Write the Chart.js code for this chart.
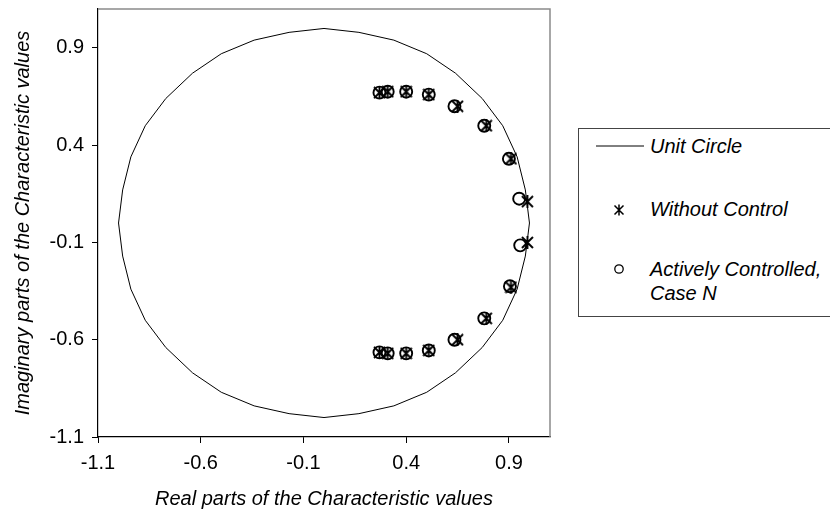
<!DOCTYPE html>
<html>
<head>
<meta charset="utf-8">
<script src="https://cdn.jsdelivr.net/npm/chart.js@4"></script>
<style>
  html, body { margin: 0; padding: 0; background: #fff; }
  #wrap { position: relative; width: 830px; height: 517px; overflow: hidden; }
  #legend { position: absolute; left: 578px; top: 128px; width: 260px; height: 189px;
            border: 1px solid #444; box-sizing: border-box; background: #fff; }
  .lg { position: absolute; font: italic 20px "Liberation Sans", Arial, sans-serif; line-height: 24px;
        color: #000; white-space: nowrap; }
  #legend svg { position: absolute; left: 0; top: 0; }
</style>
</head>
<body>
<div id="wrap">
  <canvas id="chart" width="830" height="517"></canvas>
  <div id="legend">
    <svg width="260" height="189">
      <line x1="17" y1="17" x2="65" y2="17" stroke="#000" stroke-width="1"/>
      <path d="M35.5 76.5 L44.5 85.5 M44.5 76.5 L35.5 85.5 M40 75.5 L40 86.5" stroke="#000" stroke-width="1.5" fill="none"/>
      <circle cx="40" cy="140" r="4.2" stroke="#000" stroke-width="1.3" fill="none"/>
    </svg>
    <span class="lg" id="lg0" style="left:71px; top:5px"></span>
    <span class="lg" id="lg1" style="left:71px; top:68px"></span>
    <span class="lg" id="lg2" style="left:71px; top:128px"></span>
    <span class="lg" id="lg3" style="left:71px; top:152px"></span>
  </div>
</div>
<script>
// axis ticks
const xTicks = [-1.1, -0.6, -0.1, 0.4, 0.9];
const yTicks = [-1.1, -0.6, -0.1, 0.4, 0.9];

// unit circle
const circleX = [1, 0.98, 0.94, 0.87, 0.77, 0.64, 0.5, 0.34, 0.17, 0, -0.17, -0.34, -0.5, -0.64, -0.77, -0.87, -0.94, -0.98, -1,
                 -0.98, -0.94, -0.87, -0.77, -0.64, -0.5, -0.34, -0.17, 0, 0.17, 0.34, 0.5, 0.64, 0.77, 0.87, 0.94, 0.98, 1];
const circleY = [0, 0.17, 0.34, 0.5, 0.64, 0.77, 0.87, 0.94, 0.98, 1, 0.98, 0.94, 0.87, 0.77, 0.64, 0.5, 0.34, 0.17, 0,
                 -0.17, -0.34, -0.5, -0.64, -0.77, -0.87, -0.94, -0.98, -1, -0.98, -0.94, -0.87, -0.77, -0.64, -0.5, -0.34, -0.17, 0];

// characteristic values without control
const noCtrlX = [0.27, 0.31, 0.40, 0.51, 0.65, 0.79, 0.91, 0.99, 0.99, 0.91, 0.79, 0.65, 0.51, 0.40, 0.31, 0.27];
const noCtrlY = [0.67, 0.675, 0.675, 0.66, 0.60, 0.50, 0.33, 0.11, -0.10, -0.33, -0.49, -0.60, -0.655, -0.67, -0.67, -0.665];

// actively controlled, case N
const ctrlX = [0.27, 0.31, 0.40, 0.51, 0.635, 0.78, 0.90, 0.95, 0.955, 0.905, 0.78, 0.635, 0.51, 0.40, 0.31, 0.27];
const ctrlY = [0.67, 0.675, 0.675, 0.66, 0.60, 0.50, 0.33, 0.125, -0.115, -0.325, -0.49, -0.60, -0.655, -0.67, -0.67, -0.665];

const seriesNames = ['Unit Circle', 'Without Control', 'Actively Controlled,', 'Case N'];
const xTitle = 'Real parts of the Characteristic values';
const yTitle = 'Imaginary parts of the Characteristic values';

seriesNames.forEach((t, i) => { document.getElementById('lg' + i).textContent = t; });

const pts = (xs, ys) => xs.map((x, i) => ({ x, y: ys[i] }));

function starImg(size, lw){
  const c = document.createElement('canvas');
  c.width = size; c.height = size;
  const g = c.getContext('2d');
  g.strokeStyle = '#000';
  g.lineWidth = lw;
  g.beginPath();
  g.moveTo(1, 1); g.lineTo(size - 1, size - 1);
  g.moveTo(size - 1, 1); g.lineTo(1, size - 1);
  g.moveTo(size / 2, 0); g.lineTo(size / 2, size);
  g.stroke();
  return c;
}
const star = starImg(13, 1.9);

const frame = {
  id: 'frame',
  afterDraw(chart){
    const { ctx, chartArea: a } = chart;
    ctx.save();
    ctx.strokeStyle = '#8a8a8a';
    ctx.lineWidth = 1.5;
    ctx.beginPath();
    ctx.moveTo(a.left, a.top); ctx.lineTo(a.right, a.top); ctx.lineTo(a.right, a.bottom);
    ctx.stroke();
    ctx.restore();
  }
};

const font = { family: '"Liberation Sans", Arial, sans-serif', size: 20 };
const titleFont = { family: '"Liberation Sans", Arial, sans-serif', size: 20, style: 'italic' };

new Chart(document.getElementById('chart'), {
  type: 'scatter',
  data: {
    datasets: [
      { label: seriesNames[0], data: pts(circleX, circleY), showLine: true, borderColor: '#000', borderWidth: 1,
        pointRadius: 0, tension: 0, fill: false, order: 3 },
      { label: seriesNames[1], data: pts(noCtrlX, noCtrlY), pointStyle: star, pointRadius: 6,
        borderColor: '#000', backgroundColor: '#000', order: 2 },
      { label: seriesNames[2], data: pts(ctrlX, ctrlY), pointStyle: 'circle', pointRadius: 6,
        borderColor: '#000', borderWidth: 1.9, backgroundColor: 'rgba(0,0,0,0)', order: 1 }
    ]
  },
  options: {
    responsive: false,
    animation: false,
    devicePixelRatio: 1,
    layout: { padding: { left: 0, top: 9, right: 280, bottom: 0 } },
    plugins: { legend: { display: false }, tooltip: { enabled: false } },
    scales: {
      x: {
        type: 'linear', min: -1.1, max: 1.1,
        afterBuildTicks: s => { s.ticks = xTicks.map(v => ({ value: v })); },
        afterFit: s => { s.height = 80; s.paddingLeft = 0; s.paddingRight = 0; },
        ticks: { color: '#000', font, padding: 8, maxRotation: 0, callback: v => v.toFixed(1) },
        grid: { drawOnChartArea: false, tickLength: 6, color: '#000' },
        border: { color: '#000', width: 1.2 },
        title: { display: true, text: xTitle, color: '#000', font: titleFont, padding: { top: 0, bottom: 6 } }
      },
      y: {
        type: 'linear', min: -1.1, max: 1.1,
        afterBuildTicks: s => { s.ticks = yTicks.map(v => ({ value: v })); },
        afterFit: s => { s.width = 98; s.paddingTop = 0; s.paddingBottom = 0; },
        ticks: { color: '#000', font, padding: 8, callback: v => v.toFixed(1) },
        grid: { drawOnChartArea: false, tickLength: 6, color: '#000' },
        border: { color: '#000', width: 1.2 },
        title: { display: true, text: yTitle, color: '#000', font: titleFont, padding: { top: 11, bottom: 0 } }
      }
    }
  },
  plugins: [frame]
});
</script>
</body>
</html>
